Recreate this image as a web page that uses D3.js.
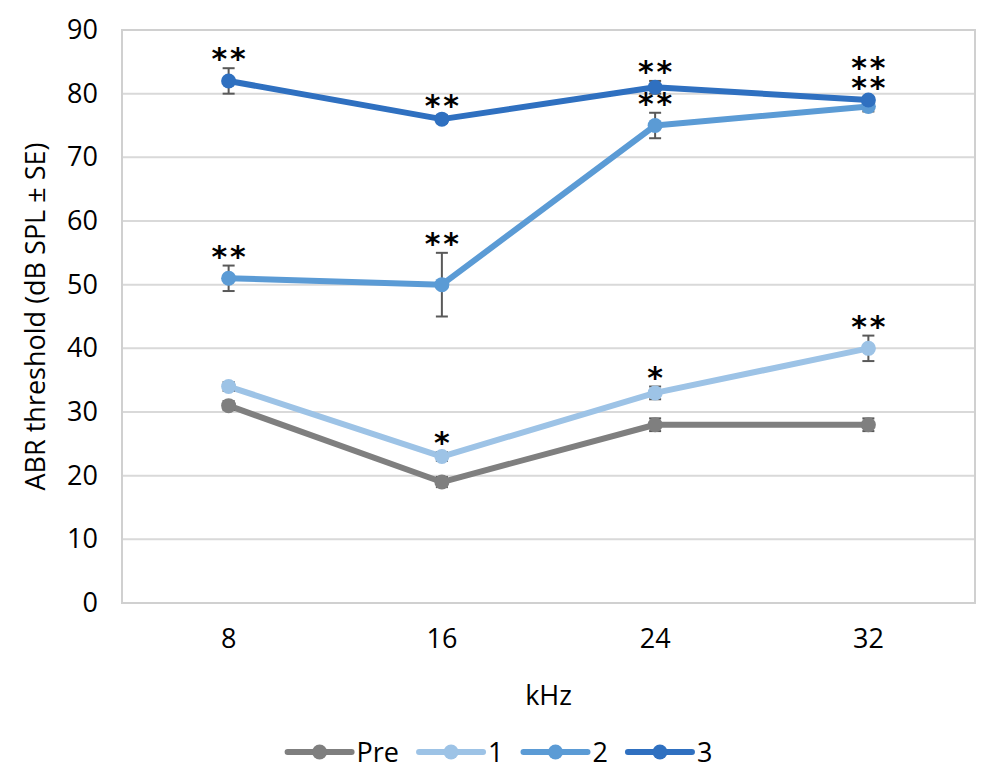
<!DOCTYPE html>
<html>
<head>
<meta charset="utf-8">
<script src="https://cdn.jsdelivr.net/npm/d3@7"></script>
<style>
  body { margin: 0; background: #fff; }
  text { font-family: "Open Sans", sans-serif; fill: #000; }
</style>
</head>
<body>
<div id="chart"></div>
<script>
// data
const categories = ['8', '16', '24', '32'];
const yTicks = [0, 10, 20, 30, 40, 50, 60, 70, 80, 90];
const seriesNames = ['Pre', '1', '2', '3'];

const preValues = [31, 19, 28, 28];
const preErrors = [0.7, 0.8, 1, 1];
const oneValues = [34, 23, 33, 40];
const oneErrors = [0.7, 0.7, 1, 2];
const twoValues = [51, 50, 75, 78];
const twoErrors = [2, 5, 2, 0.8];
const threeValues = [82, 76, 81, 79];
const threeErrors = [2, 0.6, 1, 0.5];

// significance marks: [anchor series, category, labels bottom to top]
const stars = [
  ['3', '8', ['**']], ['3', '16', ['**']], ['3', '24', ['**']], ['3', '32', ['**', '**']],
  ['2', '8', ['**']], ['2', '16', ['**']], ['2', '24', ['**']],
  ['1', '16', ['*']], ['1', '24', ['*']], ['1', '32', ['**']]
];

const colors = ['#7f7f7f', '#9dc3e6', '#5b9bd5', '#2f70c0'];

const series = [
  { name: seriesNames[0], values: preValues, errors: preErrors, color: colors[0] },
  { name: seriesNames[1], values: oneValues, errors: oneErrors, color: colors[1] },
  { name: seriesNames[2], values: twoValues, errors: twoErrors, color: colors[2] },
  { name: seriesNames[3], values: threeValues, errors: threeErrors, color: colors[3] }
];

const width = 1000, height = 781;
const margin = { top: 30, right: 25, bottom: 178, left: 122 };
const plotW = width - margin.left - margin.right;
const plotH = height - margin.top - margin.bottom;

const svg = d3.select('#chart')
  .append('svg')
  .attr('width', width)
  .attr('height', height);

const g = svg.append('g')
  .attr('transform', `translate(${margin.left},${margin.top})`);

const x = d3.scaleBand()
  .domain(categories)
  .range([0, plotW])
  .padding(0);
const cx = c => x(c) + x.bandwidth() / 2;

const y = d3.scaleLinear()
  .domain([0, 90])
  .range([plotH, 0]);

// gridlines
g.append('g')
  .selectAll('line')
  .data(yTicks)
  .enter().append('line')
  .attr('x1', 0).attr('x2', plotW)
  .attr('y1', d => y(d)).attr('y2', d => y(d))
  .attr('stroke', '#d9d9d9')
  .attr('stroke-width', 2);

// plot border
g.append('rect')
  .attr('x', 0).attr('y', 0)
  .attr('width', plotW).attr('height', plotH)
  .attr('fill', 'none')
  .attr('stroke', '#d0d0d0')
  .attr('stroke-width', 2);

// y axis labels
const yAxis = g.append('g')
  .call(d3.axisLeft(y).tickValues(yTicks).tickSize(0).tickPadding(24));
yAxis.select('.domain').remove();
yAxis.selectAll('text')
  .style('font-family', '"Open Sans", sans-serif')
  .style('font-size', '27px')
  .attr('fill', '#000');

// x axis labels
const xAxis = g.append('g')
  .attr('transform', `translate(0,${plotH})`)
  .call(d3.axisBottom(x).tickSize(0).tickPadding(26));
xAxis.select('.domain').remove();
xAxis.selectAll('text')
  .style('font-family', '"Open Sans", sans-serif')
  .style('font-size', '27px')
  .attr('fill', '#000');

// axis titles
svg.append('text')
  .attr('x', margin.left + plotW / 2)
  .attr('y', 705)
  .attr('text-anchor', 'middle')
  .style('font-size', '27px')
  .text('kHz');

svg.append('text')
  .attr('transform', `translate(45,${margin.top + plotH / 2}) rotate(-90)`)
  .attr('text-anchor', 'middle')
  .style('font-size', '27px')
  .text('ABR threshold (dB SPL ± SE)');

// lines, error bars, markers
const line = d3.line()
  .x((d, i) => cx(categories[i]))
  .y(d => y(d));

series.forEach(s => {
  const sg = g.append('g');

  sg.append('path')
    .datum(s.values)
    .attr('d', line)
    .attr('fill', 'none')
    .attr('stroke', s.color)
    .attr('stroke-width', 6)
    .attr('stroke-linejoin', 'round');

  const eb = sg.selectAll('g.err')
    .data(s.values.map((v, i) => ({ c: categories[i], v: v, e: s.errors[i] })))
    .enter().append('g').attr('class', 'err');
  eb.append('line')
    .attr('x1', d => cx(d.c)).attr('x2', d => cx(d.c))
    .attr('y1', d => y(d.v + d.e)).attr('y2', d => y(d.v - d.e));
  eb.append('line')
    .attr('x1', d => cx(d.c) - 6).attr('x2', d => cx(d.c) + 6)
    .attr('y1', d => y(d.v + d.e)).attr('y2', d => y(d.v + d.e));
  eb.append('line')
    .attr('x1', d => cx(d.c) - 6).attr('x2', d => cx(d.c) + 6)
    .attr('y1', d => y(d.v - d.e)).attr('y2', d => y(d.v - d.e));
  eb.selectAll('line')
    .attr('stroke', '#595959')
    .attr('stroke-width', 2);

  sg.selectAll('circle')
    .data(s.values)
    .enter().append('circle')
    .attr('cx', (d, i) => cx(categories[i]))
    .attr('cy', d => y(d))
    .attr('r', 7.5)
    .attr('fill', s.color);
});

// significance stars (one text per spot, stacked rows as tspans)
const starSize = 30;
const rowGap = 20;
const st = g.selectAll('text.star')
  .data(stars)
  .enter().append('text')
  .attr('class', 'star')
  .attr('text-anchor', 'middle')
  .style('font-family', '"DejaVu Sans", sans-serif')
  .style('font-weight', 'bold')
  .style('font-size', starSize + 'px')
  .style('letter-spacing', '3px');

st.each(function (d) {
  const s = series.find(t => t.name === d[0]);
  const i = categories.indexOf(d[1]);
  const top = y(s.values[i] + s.errors[i]);
  const el = d3.select(this);
  d[2].forEach((lab, r) => {
    el.append('tspan')
      .attr('x', cx(d[1]) + 1.5)
      .attr('y', top - 17 - r * rowGap + starSize * 0.6)
      .text(lab);
  });
});

// legend
const legend = svg.append('g');
let lx = 0;
series.forEach(s => {
  const item = legend.append('g').attr('transform', `translate(${lx},0)`);
  item.append('line')
    .attr('x1', 0).attr('x2', 64)
    .attr('y1', 0).attr('y2', 0)
    .attr('stroke', s.color)
    .attr('stroke-width', 6)
    .attr('stroke-linecap', 'round');
  item.append('circle')
    .attr('cx', 32).attr('cy', 0).attr('r', 7.5)
    .attr('fill', s.color);
  const t = item.append('text')
    .attr('x', 69)
    .attr('y', 10)
    .style('font-size', '27px')
    .text(s.name);
  lx += 69 + t.node().getComputedTextLength() + 20;
});
legend.attr('transform', `translate(${(width - (lx - 20)) / 2},752)`);
</script>
</body>
</html>
